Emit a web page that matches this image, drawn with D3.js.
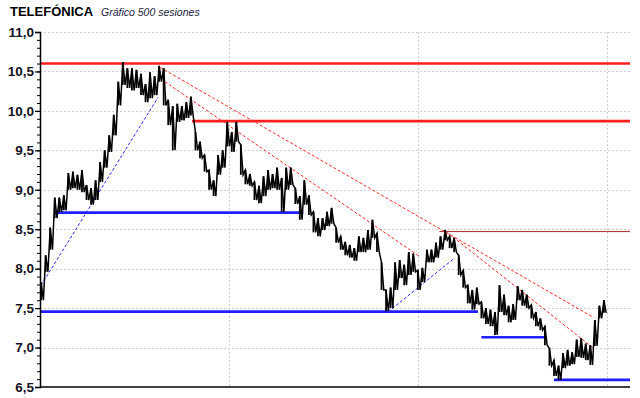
<!DOCTYPE html>
<html>
<head>
<meta charset="utf-8">
<script src="https://cdn.jsdelivr.net/npm/d3@7"></script>
<style>
  body { margin: 0; background: #fff; }
  svg { display: block; }
</style>
</head>
<body>
<div id="chart"></div>
<script>
// chart texts
var title = "TELEFÓNICA";
var subtitle = "Gráfico 500 sesiones";

// y axis ticks (labelled every 0.5, minor every 0.1)
var yMajor = [6.5, 7.0, 7.5, 8.0, 8.5, 9.0, 9.5, 10.0, 10.5, 11.0];
var yMinor = d3.range(65, 111).map(function(d) { return d / 10; });

// unlabelled vertical grid, in sessions
var gridSessions = [166, 332, 499];

// price range per 4 sessions
var binStep = 4;
var highs = [
  7.83, 8.17, 8.52, 8.90, 8.90, 8.93, 9.21, 9.23, 9.19, 9.25,
  9.06, 9.02, 9.12, 9.35, 9.50, 9.69, 9.95, 10.37, 10.62, 10.54,
  10.54, 10.52, 10.47, 10.34, 10.49, 10.44, 10.57, 10.54, 10.14, 10.06,
  10.09, 10.06, 10.11, 10.18, 9.73, 9.61, 9.44, 9.25, 9.12, 9.44,
  9.50, 9.86, 9.73, 9.86, 9.57, 9.25, 9.20, 9.10, 9.05, 9.17,
  9.25, 9.20, 9.28, 9.15, 9.28, 9.28, 9.02, 8.92, 9.12, 8.93,
  8.72, 8.64, 8.64, 8.72, 8.77, 8.52, 8.41, 8.34, 8.30, 8.26,
  8.41, 8.39, 8.49, 8.62, 8.45, 8.08, 7.73, 7.76, 8.08, 8.11,
  8.05, 8.21, 8.19, 7.98, 8.01, 8.24, 8.24, 8.33, 8.41, 8.49,
  8.41, 8.39, 8.17, 7.98, 7.79, 7.73, 7.76, 7.58, 7.50, 7.48,
  7.45, 7.79, 7.67, 7.53, 7.55, 7.78, 7.73, 7.67, 7.54, 7.45,
  7.37, 7.27, 6.99, 6.84, 6.77, 6.93, 6.97, 6.94, 7.10, 7.12,
  7.05, 7.03, 7.35, 7.53, 7.60
];
var lows = [
  7.60, 7.96, 8.24, 8.64, 8.72, 8.74, 9.00, 9.02, 9.00, 8.97,
  8.87, 8.81, 8.87, 9.10, 9.28, 9.48, 9.69, 10.07, 10.33, 10.29,
  10.26, 10.29, 10.20, 10.11, 10.16, 10.20, 10.37, 10.07, 9.82, 9.50,
  9.86, 9.88, 9.91, 9.94, 9.50, 9.40, 9.23, 9.00, 8.92, 9.19,
  9.28, 9.55, 9.48, 9.61, 9.19, 9.07, 9.05, 8.87, 8.83, 8.92,
  9.00, 9.02, 9.00, 8.72, 9.00, 9.06, 8.82, 8.62, 8.81, 8.68,
  8.46, 8.41, 8.49, 8.54, 8.57, 8.33, 8.24, 8.17, 8.14, 8.10,
  8.21, 8.21, 8.24, 8.39, 8.21, 7.73, 7.46, 7.50, 7.73, 7.88,
  7.79, 7.92, 7.96, 7.73, 7.83, 8.08, 8.08, 8.14, 8.24, 8.36,
  8.26, 8.21, 7.92, 7.76, 7.56, 7.48, 7.55, 7.37, 7.30, 7.27,
  7.16, 7.45, 7.41, 7.32, 7.35, 7.60, 7.53, 7.50, 7.37, 7.27,
  7.22, 7.03, 6.77, 6.64, 6.59, 6.74, 6.77, 6.79, 6.88, 6.87,
  6.84, 6.78, 7.02, 7.37, 7.44
];

// horizontal levels: [price, from session, to session]
var redLevels = [[10.60, -1, 519], [9.87, 133, 519]];
var thinLevels = [[8.47, 351, 519]];
var blueLevels = [[8.71, 12, 231], [7.455, -1, 385], [7.13, 388, 445], [6.59, 452, 519]];

// trend lines: [session1, price1, session2, price2]
var redTrends = [[105, 10.55, 487, 7.38], [109, 10.37, 334, 8.15], [356, 8.48, 487, 6.99]];
var blueTrends = [[0, 7.79, 103, 10.17], [306, 7.455, 364, 8.13]];

var width = 640, height = 398;
var margin = { top: 32, right: 10, bottom: 11, left: 40 };

var x = d3.scaleLinear().domain([-1, 519]).range([margin.left, width - margin.right]);
var y = d3.scaleLinear().domain([6.5, 11.0]).range([height - margin.bottom, margin.top]);

var svg = d3.select("#chart")
  .append("svg")
  .attr("width", width)
  .attr("height", height);

// title
svg.append("text")
  .attr("x", 10)
  .attr("y", 15.5)
  .style("font-family", "Liberation Sans, Arial, sans-serif")
  .style("font-weight", "bold")
  .style("font-size", "13px")
  .style("fill", "#000")
  .text(title);

svg.append("text")
  .attr("x", 101)
  .attr("y", 15.5)
  .style("font-family", "Liberation Sans, Arial, sans-serif")
  .style("font-style", "italic")
  .style("font-size", "10.5px")
  .style("fill", "#1a1a3a")
  .text(subtitle);

// grid
svg.append("g")
  .selectAll("line")
  .data(yMajor.slice(1))
  .enter()
  .append("line")
  .attr("x1", margin.left)
  .attr("x2", width - margin.right)
  .attr("y1", (d) => Math.round(y(d)) + 0.5)
  .attr("y2", (d) => Math.round(y(d)) + 0.5)
  .style("stroke", "#cfcfcf")
  .style("stroke-dasharray", "2,2");

svg.append("g")
  .selectAll("line")
  .data(gridSessions)
  .enter()
  .append("line")
  .attr("x1", (d) => Math.round(x(d)) + 0.5)
  .attr("x2", (d) => Math.round(x(d)) + 0.5)
  .attr("y1", margin.top)
  .attr("y2", height - margin.bottom)
  .style("stroke", "#cfcfcf")
  .style("stroke-dasharray", "2,2");

// levels
function levels(data, color, w) {
  svg.append("g")
    .selectAll("line")
    .data(data)
    .enter()
    .append("line")
    .attr("x1", (d) => x(d[1]))
    .attr("x2", (d) => x(d[2]))
    .attr("y1", (d) => y(d[0]))
    .attr("y2", (d) => y(d[0]))
    .style("stroke", color)
    .style("stroke-width", w);
}

function trends(data, color) {
  svg.append("g")
    .selectAll("line")
    .data(data)
    .enter()
    .append("line")
    .attr("x1", (d) => x(d[0]))
    .attr("y1", (d) => y(d[1]))
    .attr("x2", (d) => x(d[2]))
    .attr("y2", (d) => y(d[3]))
    .style("stroke", color)
    .style("stroke-width", 1)
    .style("stroke-dasharray", "3,2");
}

levels(redLevels, "#ff1f1f", 2.6);
levels(thinLevels, "#b02828", 1);
levels(blueLevels, "#1f1fff", 2.6);
trends(redTrends, "#ff2a2a");
trends(blueTrends, "#2a2aff");

// price bars
var bars = highs.map(function(h, i) {
  return { s: i * binStep, hi: h, lo: lows[i] };
});

var zig = [];
bars.forEach(function(d) {
  zig.push([d.s, d.hi]);
  zig.push([d.s + binStep / 2, d.lo]);
});

svg.append("path")
  .datum(zig)
  .attr("d", d3.line().x((d) => x(d[0])).y((d) => y(d[1])))
  .style("fill", "none")
  .style("stroke", "#000")
  .style("stroke-width", 1.5);

svg.append("g")
  .selectAll("line")
  .data(bars)
  .enter()
  .append("line")
  .attr("x1", (d) => x(d.s))
  .attr("x2", (d) => x(d.s))
  .attr("y1", (d) => y(d.hi))
  .attr("y2", (d) => y(d.lo))
  .style("stroke", "#000")
  .style("stroke-width", 1.8);

// axes
var yAxis = d3.axisLeft(y)
  .tickValues(yMajor)
  .tickSize(5)
  .tickFormat((d) => d3.format(".1f")(d).replace(".", ","));

var yMinorAxis = d3.axisLeft(y)
  .tickValues(yMinor)
  .tickSize(3)
  .tickFormat("");

svg.append("g")
  .attr("transform", `translate(${margin.left}, 0)`)
  .call(yMinorAxis)
  .call((g) => g.select(".domain").remove());

var ya = svg.append("g")
  .attr("transform", `translate(${margin.left}, 0)`)
  .call(yAxis);

ya.selectAll(".tick line").style("stroke", "#000").style("stroke-width", 1.2);
ya.select(".domain").style("stroke", "#000").style("stroke-width", 1.5);
ya.selectAll(".tick text")
  .attr("x", -6)
  .style("font-family", "Liberation Sans, Arial, sans-serif")
  .style("font-weight", "bold")
  .style("font-size", "13.5px")
  .style("fill", "#111122");

svg.append("line")
  .attr("x1", margin.left)
  .attr("x2", width - margin.right)
  .attr("y1", y(6.5))
  .attr("y2", y(6.5))
  .style("stroke", "#000")
  .style("stroke-width", 1.5);
</script>
</body>
</html>
